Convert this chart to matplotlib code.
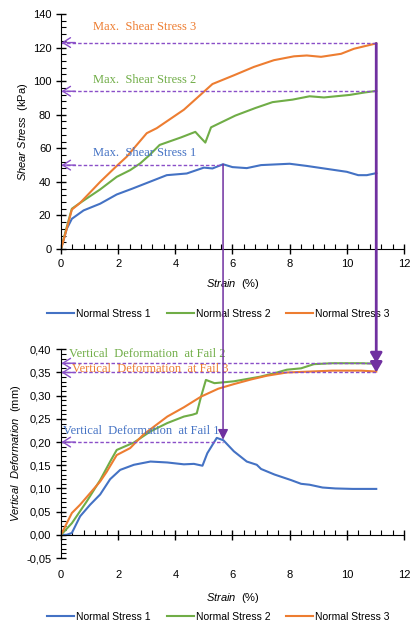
import numpy as np
import matplotlib
matplotlib.use("Agg")
import matplotlib.pyplot as plt
from matplotlib.patches import ConnectionPatch
from matplotlib.ticker import MultipleLocator

plt.rcParams['font.family'] = ['Liberation Sans', 'DejaVu Sans']
plt.rcParams['mathtext.fontset'] = 'custom'
plt.rcParams['mathtext.it'] = 'Liberation Sans:italic'
plt.rcParams['mathtext.rm'] = 'Liberation Sans'

BLUE = '#4472C4'
GREEN = '#70AD47'
ORANGE = '#ED7D31'
PURPLE = '#7030A0'
DASH = '#8A4FC8'

series_names = ['Normal Stress 1', 'Normal Stress 2', 'Normal Stress 3']

# shear stress (kPa) vs strain (%)
shear_x1 = [0, 0.2, 0.38, 0.79, 1.37, 1.95, 2.5, 3.1, 3.7, 4.4, 5.0, 5.3, 5.67, 6.0,
            6.5, 7.0, 8.0, 8.6, 9.4, 10.0, 10.4, 10.7, 11.03]
shear_y1 = [0, 12, 18, 23, 27, 32.5, 36, 40, 44, 45, 48.5, 48, 50.5, 48.8,
            48.2, 50, 50.8, 49.5, 47.5, 46, 44, 44, 45.2]
shear_x2 = [0, 0.2, 0.38, 0.67, 1.37, 1.95, 2.42, 2.77, 3.1, 3.45, 4.2, 4.7, 4.85,
            5.05, 5.25, 6.1, 6.8, 7.4, 8.1, 8.7, 9.2, 10.1, 10.6, 11.03]
shear_y2 = [0, 13, 24, 27.5, 35.5, 43, 47, 51, 56, 62, 66.5, 69.8, 67,
            63.4, 72.5, 79.5, 84, 87.5, 89, 91, 90.3, 91.8, 93.2, 94.2]
shear_x3 = [0, 0.2, 0.38, 0.67, 1.37, 1.95, 2.3, 3.0, 3.35, 4.3, 5.0, 5.3, 6.05,
            6.75, 7.45, 8.15, 8.6, 9.1, 9.8, 10.25, 11.03]
shear_y3 = [0, 12, 23.5, 27.5, 40, 49.5, 55, 69, 72, 83, 93.7, 98.3, 103.5,
            108.5, 112.5, 114.8, 115.3, 114.5, 116.3, 119.3, 122.5]

# vertical deformation (mm) vs strain (%)
def_x1 = [0, 0.2, 0.38, 0.67, 1.02, 1.37, 1.72, 2.07, 2.55, 3.13, 3.72, 4.3, 4.65,
          4.95, 5.12, 5.45, 5.68, 6.05, 6.5, 6.85, 7.0, 7.47, 8.05, 8.4, 8.7,
          9.15, 9.6, 10.2, 11.03]
def_y1 = [0, 0.0, 0.004, 0.04, 0.065, 0.087, 0.12, 0.14, 0.151, 0.158, 0.156, 0.152, 0.153,
          0.149, 0.176, 0.209, 0.204, 0.18, 0.158, 0.151, 0.142, 0.13, 0.118, 0.11, 0.108,
          0.102, 0.100, 0.099, 0.099]
def_x2 = [0, 0.38, 0.9, 1.37, 1.72, 1.95, 2.55, 3.13, 3.72, 4.3, 4.6, 4.75, 4.9, 5.07,
          5.37, 6.05, 6.97, 7.5, 7.9, 8.4, 8.85, 9.5, 10.5, 11.03]
def_y2 = [0, 0.025, 0.072, 0.118, 0.158, 0.183, 0.199, 0.223, 0.241, 0.255, 0.259, 0.262,
          0.298, 0.334, 0.327, 0.331, 0.341, 0.349, 0.356, 0.359, 0.368, 0.370, 0.370, 0.369]
def_x3 = [0, 0.38, 0.67, 1.02, 1.37, 1.6, 1.95, 2.42, 2.88, 3.72, 4.3, 4.9, 5.5, 6.05,
          6.65, 7.2, 7.9, 9.5, 10.5, 11.03]
def_y3 = [0, 0.047, 0.065, 0.09, 0.115, 0.136, 0.172, 0.187, 0.216, 0.255, 0.275, 0.298,
          0.315, 0.325, 0.335, 0.343, 0.350, 0.354, 0.354, 0.352]

# failure points
fail_strain = [5.67, 11.03, 11.03]
max_shear = [50, 94, 123]
fail_def = [0.20, 0.37, 0.35]
max_labels = ['Max.  Shear Stress 1', 'Max.  Shear Stress 2', 'Max.  Shear Stress 3']
def_labels = ['Vertical  Deformation  at Fail 1', 'Vertical  Deformation  at Fail 2',
              'Vertical  Deformation  at Fail 3']

colors = [BLUE, GREEN, ORANGE]

fig = plt.figure(figsize=(4.11, 6.26), dpi=100)
ax1 = fig.add_axes([0.1484, 0.6022, 0.8345, 0.3754])
ax2 = fig.add_axes([0.1484, 0.1086, 0.8345, 0.3334])


def style_axis(ax):
    for s in ['top', 'right']:
        ax.spines[s].set_visible(False)
    ax.spines['left'].set_position(('data', 0))
    ax.spines['bottom'].set_position(('data', 0))
    ax.set_xlim(0, 12)
    ax.xaxis.set_major_locator(MultipleLocator(2))
    ax.xaxis.set_minor_locator(MultipleLocator(0.4))
    ax.tick_params(which='major', direction='inout', length=7, width=1, labelsize=8)
    ax.tick_params(which='minor', direction='in', length=3.5, width=0.8)
    ax.set_xlabel(r'$\it{Strain}$  (%)', fontsize=8)


tsty = dict(family=['Liberation Serif', 'DejaVu Serif'], fontsize=9)
legsty = dict(loc='center', ncol=3, frameon=False, fontsize=7.5, handlelength=2.6,
              columnspacing=1.5, handletextpad=0.2)

# shear stress chart
for x, y, c, n in zip([shear_x1, shear_x2, shear_x3], [shear_y1, shear_y2, shear_y3], colors, series_names):
    ax1.plot(x, y, color=c, lw=1.5, label=n, solid_joinstyle='round')
style_axis(ax1)
ax1.set_ylim(0, 140)
ax1.yaxis.set_major_locator(MultipleLocator(20))
ax1.yaxis.set_minor_locator(MultipleLocator(4))
ax1.set_ylabel(r'$\it{Shear\ Stress}$  (kPa)', fontsize=8, labelpad=2)
ax1.xaxis.labelpad = 6

label_y1 = [57, 100.5, 132]
for xs, ym, col, lab, ly in zip(fail_strain, max_shear, colors, max_labels, label_y1):
    ax1.plot([0, xs], [ym, ym], ls=(0, (2.5, 1.5)), color=DASH, lw=1)
    ax1.annotate('', xy=(0.02, ym), xytext=(0.5, ym),
                 arrowprops=dict(arrowstyle='->,head_length=0.55,head_width=0.35',
                                 color=DASH, lw=1, shrinkA=0, shrinkB=0))
    ax1.text(1.12, ly, lab, color=col, va='center', ha='left', **tsty)

ax1.legend(bbox_to_anchor=(0.459, -0.277), **legsty)

# vertical deformation chart
for x, y, c, n in zip([def_x1, def_x2, def_x3], [def_y1, def_y2, def_y3], colors, series_names):
    ax2.plot(x, y, color=c, lw=1.5, label=n, solid_joinstyle='round')
style_axis(ax2)
ax2.set_ylim(-0.05, 0.40)
ax2.yaxis.set_major_locator(MultipleLocator(0.05))
ax2.yaxis.set_minor_locator(MultipleLocator(0.01))
ax2.yaxis.set_major_formatter(lambda v, p: f'{v:.2f}'.replace('.', ',').replace('-0,00', '0,00'))
ax2.tick_params(axis='x', which='major', pad=22)
ax2.set_ylabel(r'$\it{Vertical\ \ Deformation}$  (mm)', fontsize=8, labelpad=2)
ax2.xaxis.labelpad = 8

label_y2 = [0.223, 0.39, 0.357]
label_x2 = [0.08, 0.28, 0.38]
for xs, yd, col, lab, ly, lx in zip(fail_strain, fail_def, colors, def_labels, label_y2, label_x2):
    ax2.plot([0, xs], [yd, yd], ls=(0, (2.5, 1.5)), color=DASH, lw=1)
    ax2.annotate('', xy=(0.02, yd), xytext=(0.5, yd),
                 arrowprops=dict(arrowstyle='->,head_length=0.55,head_width=0.35',
                                 color=DASH, lw=1, shrinkA=0, shrinkB=0))
    ax2.text(lx, ly, lab, color=col, va='center', ha='left', **tsty)

ax2.legend(bbox_to_anchor=(0.459, -0.283), **legsty)

# failure arrows linking both charts
con1 = ConnectionPatch(xyA=(fail_strain[0], 50.5), coordsA=ax1.transData,
                       xyB=(fail_strain[0], 0.205), coordsB=ax2.transData,
                       arrowstyle='-|>,head_length=0.6,head_width=0.3', color=PURPLE,
                       lw=1.1, mutation_scale=10, shrinkA=0, shrinkB=0, zorder=10)
fig.add_artist(con1)
con2 = ConnectionPatch(xyA=(fail_strain[1], 122.5), coordsA=ax1.transData,
                       xyB=(fail_strain[1], fail_def[2]), coordsB=ax2.transData,
                       arrowstyle='-|>,head_length=0.6,head_width=0.35', color=PURPLE,
                       lw=2, mutation_scale=10, shrinkA=0, shrinkB=0, zorder=10)
fig.add_artist(con2)
ax2.annotate('', xy=(fail_strain[1], fail_def[1]), xytext=(fail_strain[1], fail_def[1] + 0.02),
             arrowprops=dict(arrowstyle='-|>,head_length=0.6,head_width=0.35', color=PURPLE,
                             lw=2, shrinkA=0, shrinkB=0))

fig.savefig('out.png', dpi=100)
